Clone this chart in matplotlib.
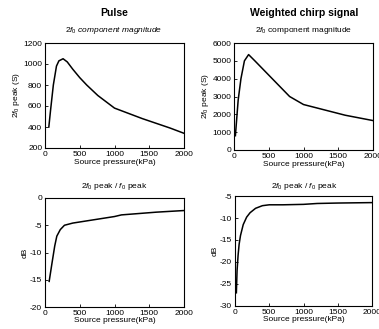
import numpy as np
import matplotlib as mpl
mpl.use('Agg')
import matplotlib.pyplot as plt

plt.rcParams['font.family'] = ['Liberation Sans', 'DejaVu Sans']
plt.rcParams['axes.unicode_minus'] = False
plt.rcParams['mathtext.fontset'] = 'custom'
plt.rcParams['mathtext.rm'] = 'Liberation Sans'
plt.rcParams['mathtext.it'] = 'Liberation Sans:italic'

# top left: pulse 2f0 magnitude
pulse_x = [55, 80, 120, 165, 200, 260, 320, 400, 500, 600, 760, 900, 1000, 1200, 1400, 1600, 1800, 2000]
pulse_mag = [400, 560, 800, 980, 1030, 1050, 1020, 950, 870, 800, 700, 630, 580, 530, 480, 435, 390, 340]

# top right: chirp 2f0 magnitude
chirp_x = [20, 40, 60, 100, 150, 210, 300, 400, 500, 600, 800, 1000, 1200, 1400, 1600, 1800, 2000]
chirp_mag = [800, 1800, 2800, 4000, 5000, 5350, 5000, 4600, 4200, 3800, 3000, 2550, 2350, 2150, 1950, 1800, 1650]

# bottom left: pulse ratio dB
pulse_db_x = [60, 100, 140, 170, 220, 280, 400, 600, 800, 1000, 1100, 1300, 1600, 2000]
pulse_db = [-15.3, -12.0, -8.8, -7.0, -5.8, -5.0, -4.6, -4.2, -3.8, -3.4, -3.1, -2.9, -2.6, -2.3]

# bottom right: chirp ratio dB
chirp_db_x = [20, 30, 45, 60, 80, 120, 170, 220, 300, 400, 500, 700, 1000, 1200, 1500, 2000]
chirp_db = [-27, -22, -18.5, -16, -14, -11.5, -9.8, -8.8, -7.8, -7.2, -7.0, -7.0, -6.9, -6.7, -6.6, -6.5]

xticks = [0, 500, 1000, 1500, 2000]
xlab = 'Source pressure(kPa)'

fig = plt.figure(figsize=(3.79, 3.29), dpi=100)
W, H = 379, 329

def axes_px(l, t, r, b):
    return fig.add_axes([l / W, 1 - b / H, (r - l) / W, (b - t) / H])

tick_kw = dict(direction='in', labelsize=6, length=2, width=0.6, pad=2)

ax1 = axes_px(45, 43, 184, 148)
ax1.plot(pulse_x, pulse_mag, color='black', lw=1.1)
ax1.set_xlim(0, 2000)
ax1.set_ylim(200, 1200)
ax1.set_yticks([200, 400, 600, 800, 1000, 1200])
ax1.set_ylabel(r'$2f_0$ peak (S)', fontsize=6, labelpad=1)
ax1.set_xlabel(xlab, fontsize=6, labelpad=1)

ax2 = axes_px(234, 43, 373, 150)
ax2.plot(chirp_x, chirp_mag, color='black', lw=1.1)
ax2.set_xlim(0, 2000)
ax2.set_ylim(0, 6000)
ax2.set_yticks([0, 1000, 2000, 3000, 4000, 5000, 6000])
ax2.set_ylabel(r'$2f_0$ peak (S)', fontsize=6, labelpad=1)
ax2.set_xlabel(xlab, fontsize=6, labelpad=1)

ax3 = axes_px(45, 198, 184, 307)
ax3.plot(pulse_db_x, pulse_db, color='black', lw=1.1)
ax3.set_xlim(0, 2000)
ax3.set_ylim(-20, 0)
ax3.set_yticks([-20, -15, -10, -5, 0])
ax3.set_ylabel('dB', fontsize=6, labelpad=1)
ax3.set_xlabel(xlab, fontsize=6, labelpad=0)

ax4 = axes_px(235, 196, 372, 306)
ax4.plot(chirp_db_x, chirp_db, color='black', lw=1.1)
ax4.set_xlim(0, 2000)
ax4.set_ylim(-30, -5)
ax4.set_yticks([-30, -25, -20, -15, -10, -5])
ax4.set_ylabel('dB', fontsize=6, labelpad=1)
ax4.set_xlabel(xlab, fontsize=6, labelpad=0)

for ax in (ax1, ax2, ax3, ax4):
    ax.set_xticks(xticks)
    ax.tick_params(**tick_kw)
    for s in ax.spines.values():
        s.set_linewidth(0.8)

fig.text(114 / W, 1 - 13 / H, 'Pulse', ha='center', va='center', fontsize=7.5, fontweight='bold')
fig.text(304 / W, 1 - 13 / H, 'Weighted chirp signal', ha='center', va='center', fontsize=7.5, fontweight='bold')
fig.text(114 / W, 1 - 30 / H, r'$2f_0$ $component$ $magnitude$', ha='center', va='center', fontsize=6)
fig.text(304 / W, 1 - 30 / H, r'$2f_0$ component magnitude', ha='center', va='center', fontsize=6)
fig.text(114 / W, 1 - 187 / H, r'$2f_0$ peak / $f_0$ peak', ha='center', va='center', fontsize=6)
fig.text(304 / W, 1 - 187 / H, r'$2f_0$ peak / $f_0$ peak', ha='center', va='center', fontsize=6)

fig.savefig('out.png', dpi=100)
